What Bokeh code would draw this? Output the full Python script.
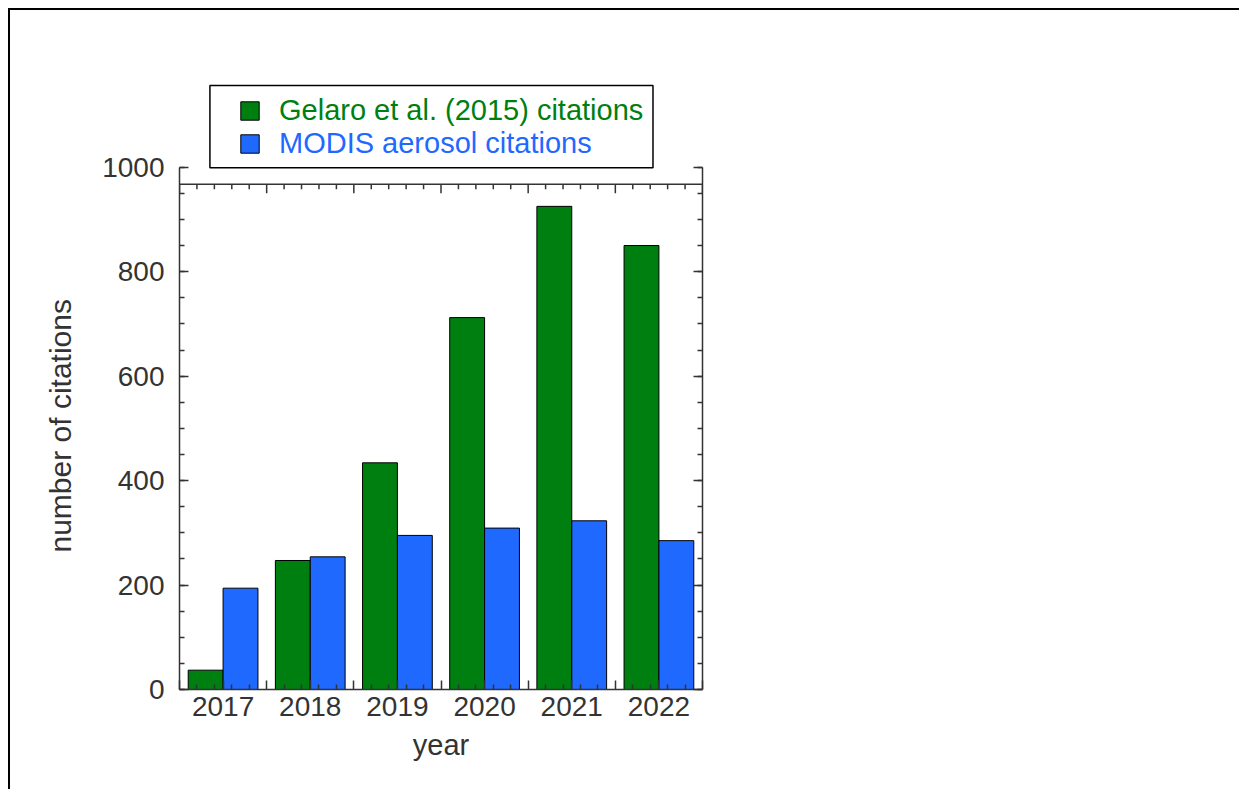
import numpy as np
from bokeh.plotting import figure
from bokeh.models import (ColumnDataSource, Range1d, LinearAxis, FixedTicker,
                          SingleIntervalTicker, Legend, LegendItem, BoxAnnotation,
                          Span, CustomJSTickFormatter, Title)
from bokeh.embed import file_html
from bokeh.resources import INLINE

# ---- data ----
years = ["2017", "2018", "2019", "2020", "2021", "2022"]
gelaro = [37, 247, 434, 712, 925, 850]
modis = [194, 254, 295, 309, 323, 285]
y_tick_interval = 200
y_max = 1000
series_labels = ["Gelaro et al. (2015) citations", "MODIS aerosol citations"]

FONT = "Liberation Sans"
TXT = "#333333"
AX = "#333333"
GREEN = "#007F11"
BLUE = "#1F69FF"

# ---- geometry (pixels) ----
FRAME_W = 523
FRAME_H = 659
PX_PER_UNIT = 522.3 / y_max          # 0..1000 spans 522.3 px
Y_TOP = FRAME_H / PX_PER_UNIT        # frame extends above 1000 to hold the legend

n = len(years)
idx = np.arange(n)
src = ColumnDataSource(dict(xg=idx + 0.3, xm=idx + 0.7, gelaro=gelaro, modis=modis))

p = figure(width=1231, height=781, output_backend="svg", toolbar_location=None,
           x_range=Range1d(0, n), y_range=Range1d(0, Y_TOP),
           min_border_left=169, min_border_top=20, min_border_right=1231 - 169 - FRAME_W,
           min_border_bottom=781 - 20 - FRAME_H, x_axis_location=None, y_axis_location=None)
p.outline_line_color = None
p.xgrid.visible = False
p.ygrid.visible = False
p.background_fill_color = "white"
p.border_fill_color = "white"
p.styles = {"margin-left": "8px", "margin-top": "8px",
            "border-top": "2px solid black", "border-left": "2px solid black"}

r1 = p.vbar(x="xg", top="gelaro", width=0.4, bottom=0, source=src,
            fill_color=GREEN, line_color="black", line_width=1)
r2 = p.vbar(x="xm", top="modis", width=0.4, bottom=0, source=src,
            fill_color=BLUE, line_color="black", line_width=1)


def style_axis(ax):
    ax.axis_line_color = AX
    ax.axis_line_width = 1.5
    ax.major_tick_line_color = AX
    ax.minor_tick_line_color = AX
    ax.major_tick_line_width = 1.5
    ax.minor_tick_line_width = 1.5
    ax.major_tick_in = 9
    ax.major_tick_out = 0
    ax.minor_tick_in = 5
    ax.minor_tick_out = 0
    ax.major_label_text_font = FONT
    ax.major_label_text_font_size = "28px"
    ax.major_label_text_color = TXT
    ax.axis_label_text_font = FONT
    ax.axis_label_text_font_size = "29px"
    ax.axis_label_text_color = TXT
    ax.axis_label_text_font_style = "normal"


left = LinearAxis(ticker=SingleIntervalTicker(interval=y_tick_interval, num_minor_ticks=4),
                  bounds=(0, y_max))
style_axis(left)
left.major_label_standoff = 15
p.add_layout(left, "left")

ytitle = Title(text="number of citations", align="left", offset=137,
               text_font=FONT, text_font_size="30px", text_font_style="normal",
               text_color=TXT, standoff=46)
p.add_layout(ytitle, "left")

right = LinearAxis(ticker=SingleIntervalTicker(interval=y_tick_interval, num_minor_ticks=4),
                   bounds=(0, y_max), formatter=CustomJSTickFormatter(code="return ''"))
style_axis(right)
p.add_layout(right, "right")

major_x = [float(i) for i in range(n + 1)] + [i + 0.5 for i in range(n)]
minor_x = [k * 0.2 for k in range(5 * n + 1) if k % 5 != 0]
overrides = {float(i): "" for i in range(n + 1)}
overrides.update({i + 0.5: y for i, y in enumerate(years)})
bottom = LinearAxis(ticker=FixedTicker(ticks=sorted(major_x), minor_ticks=minor_x),
                    major_label_overrides=overrides, axis_label="year")
style_axis(bottom)
bottom.major_label_standoff = 7
bottom.axis_label_standoff = 10
p.add_layout(bottom, "below")

# top box line (below the 1000 tick) with inward ticks
top_val = 967.5
p.add_layout(Span(location=top_val, dimension="width", line_color=AX, line_width=1.5))
maj_top = np.arange(0, n + 1, dtype=float)
min_top = np.array(minor_x)
p.segment(x0=maj_top, y0=top_val, x1=maj_top, y1=top_val - 9 / PX_PER_UNIT,
          line_color=AX, line_width=1.5)
p.segment(x0=min_top, y0=top_val, x1=min_top, y1=top_val - 5 / PX_PER_UNIT,
          line_color=AX, line_width=1.5)

# legend box (data coords, above the 1000 tick)
p.add_layout(BoxAnnotation(left=0.349, right=5.432, bottom=998.9, top=1156.4,
                           fill_alpha=0, line_color="black", line_alpha=1.0,
                           line_width=1.5, level="underlay"))

for r, lab, col, vy in [(r1, series_labels[0], GREEN, 562), (r2, series_labels[1], BLUE, 529)]:
    lg = Legend(items=[LegendItem(label=lab, renderers=[r])], location=(59, vy),
                padding=0, spacing=0, margin=0, border_line_color=None,
                background_fill_alpha=0, glyph_width=23, glyph_height=23,
                label_standoff=18, label_height=23,
                label_text_font=FONT, label_text_font_size="29px",
                label_text_color=col)
    p.add_layout(lg)

open("out.html", "w").write(file_html(p, INLINE))
